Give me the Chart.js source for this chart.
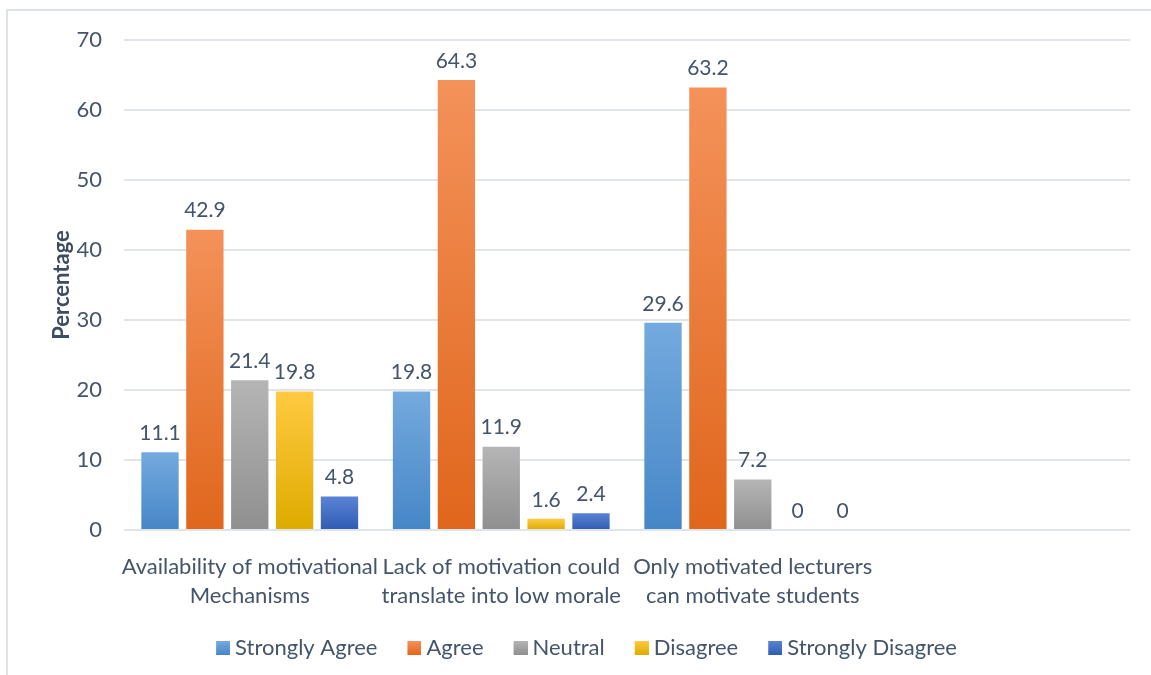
<!DOCTYPE html>
<html>
<head>
<meta charset="utf-8">
<script src="https://cdn.jsdelivr.net/npm/chart.js@4.4.1/dist/chart.umd.min.js"></script>
<style>
  html, body { margin: 0; padding: 0; background: #ffffff; }
  #wrap { width: 1151px; height: 675px; position: relative; }
  canvas { display: block; }
</style>
</head>
<body>
<div id="wrap"><canvas id="chart" width="1151" height="675"></canvas></div>
<script>
// Survey responses (percent) per statement
const categories = [
  ["Availability of motivational", "Mechanisms"],
  ["Lack of motivation could", "translate into low morale"],
  ["Only motivated lecturers", "can motivate students"],
  ""
];
const seriesNames = ["Strongly Agree", "Agree", "Neutral", "Disagree", "Strongly Disagree"];
const stronglyAgree    = [11.1, 19.8, 29.6, null];
const agree            = [42.9, 64.3, 63.2, null];
const neutral          = [21.4, 11.9, 7.2, null];
const disagree         = [19.8, 1.6, 0, null];
const stronglyDisagree = [4.8, 2.4, 0, null];
const yTicks = [0, 10, 20, 30, 40, 50, 60, 70];

const TEXT = '#44546a';
const FONT = 'Lato, "Open Sans", sans-serif';

// top / bottom / legend colour for each series
const palette = [
  ['#74aade', '#4686c7', '#5b9bd5'],
  ['#f4925a', '#e0661c', '#ed7d31'],
  ['#b5b5b5', '#8f8f8f', '#a5a5a5'],
  ['#ffca40', '#deab00', '#ffc000'],
  ['#5a84d4', '#2f5bb4', '#4472c4']
];

function barFill(top, bottom) {
  return (ctx) => {
    const chart = ctx.chart;
    const y = chart.scales && chart.scales.y;
    if (ctx.type !== 'data' || !y || !chart.chartArea || ctx.raw == null) return bottom;
    const y0 = y.getPixelForValue(ctx.raw);
    const y1 = y.getPixelForValue(0);
    if (Math.abs(y1 - y0) < 1) return bottom;
    const g = chart.ctx.createLinearGradient(0, y0, 0, y1);
    g.addColorStop(0, top);
    g.addColorStop(1, bottom);
    return g;
  };
}

// legend marker: a 14px swatch near the right end of a wider slot; the empty
// left part of the slot acts as spacing after the previous entry, and the
// swatch reaches slightly past the slot so it sits close to its text
const SLOT_W = 30, OVERHANG = 6, SWATCH = 14;
function legendMarker(top, bottom) {
  const cv = document.createElement('canvas');
  cv.width = SLOT_W + 2 * OVERHANG;
  cv.height = SWATCH;
  const c = cv.getContext('2d');
  const g = c.createLinearGradient(0, 0, 0, SWATCH);
  g.addColorStop(0, top);
  g.addColorStop(1, bottom);
  c.fillStyle = g;
  c.fillRect(cv.width - SWATCH, 0, SWATCH, SWATCH);
  return cv;
}
const markers = palette.map(p => legendMarker(p[0], p[1]));

const seriesValues = [stronglyAgree, agree, neutral, disagree, stronglyDisagree];
const datasets = seriesNames.map((name, i) => ({
  label: name,
  data: seriesValues[i],
  backgroundColor: barFill(palette[i][0], palette[i][1]),
  borderWidth: 0,
  categoryPercentage: 0.892,
  barPercentage: 0.832
}));

// thin frame around the chart area (top and left edges)
const framePlugin = {
  id: 'frame',
  beforeDraw(chart) {
    const c = chart.ctx;
    c.save();
    c.strokeStyle = '#dde1e8';
    c.lineWidth = 2;
    c.beginPath();
    c.moveTo(7, 675);
    c.lineTo(7, 10);
    c.lineTo(1151, 10);
    c.stroke();
    c.restore();
  }
};

// value printed above each bar
const valueLabels = {
  id: 'valueLabels',
  afterDatasetsDraw(chart) {
    const c = chart.ctx;
    c.save();
    c.font = '21px ' + FONT;
    c.fillStyle = TEXT;
    c.textAlign = 'center';
    c.textBaseline = 'middle';
    chart.data.datasets.forEach((ds, di) => {
      const meta = chart.getDatasetMeta(di);
      meta.data.forEach((el, i) => {
        const v = ds.data[i];
        if (v == null) return;
        c.fillText(String(v), el.x, el.y - 19);
      });
    });
    c.restore();
  }
};

new Chart(document.getElementById('chart'), {
  type: 'bar',
  data: { labels: categories, datasets },
  options: {
    responsive: false,
    animation: false,
    devicePixelRatio: 1,
    layout: { padding: { left: 0, right: 0, top: 40, bottom: 6 } },
    plugins: {
      tooltip: { enabled: false },
      legend: {
        position: 'bottom',
        labels: {
          color: TEXT,
          font: { family: FONT, size: 22 },
          usePointStyle: true,
          pointStyleWidth: SLOT_W,
          boxHeight: SWATCH,
          padding: 8,
          generateLabels: (chart) => chart.data.datasets.map((ds, i) => ({
            text: ds.label,
            fillStyle: palette[i][2],
            strokeStyle: palette[i][2],
            pointStyle: markers[i],
            lineWidth: 0,
            fontColor: TEXT,
            hidden: false,
            datasetIndex: i
          }))
        }
      }
    },
    scales: {
      x: {
        grid: { display: false, drawTicks: false },
        border: { display: false },
        afterFit: (scale) => { scale.height = 99; },
        ticks: {
          color: TEXT,
          font: { family: FONT, size: 22, lineHeight: 1.32 },
          padding: 22,
          autoSkip: false,
          maxRotation: 0,
          minRotation: 0
        }
      },
      y: {
        min: 0,
        max: 70,
        afterBuildTicks: (scale) => { scale.ticks = yTicks.map(v => ({ value: v })); },
        afterFit: (scale) => { scale.width = 124; },
        grid: { color: '#e1e4ea', lineWidth: 2, drawTicks: false },
        border: { display: false },
        ticks: {
          color: TEXT,
          font: { family: FONT, size: 22 },
          padding: 22
        },
        title: {
          display: true,
          text: 'Percentage',
          color: '#3d4c60',
          font: { family: FONT, size: 22, weight: 'bold' },
          padding: { top: 49, bottom: 0 }
        }
      },
      yRight: {
        position: 'right',
        display: true,
        grid: { display: false, drawTicks: false },
        border: { display: false },
        ticks: { display: false },
        afterFit: (scale) => { scale.width = 21; }
      }
    }
  },
  plugins: [framePlugin, valueLabels]
});
</script>
</body>
</html>
